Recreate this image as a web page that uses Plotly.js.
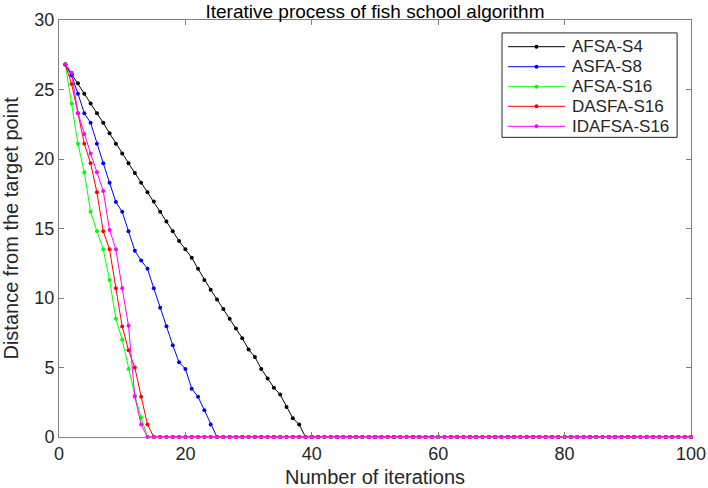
<!DOCTYPE html>
<html>
<head>
<meta charset="utf-8">
<script src="https://cdn.plot.ly/plotly-3.0.1.min.js"></script>
<style>
html,body{margin:0;padding:0;background:#fff;}
#chart{width:708px;height:488px;}
</style>
</head>
<body>
<div id="chart"></div>
<script>
// Iteration numbers (x axis)
const iterations = [1,2,3,4,5,6,7,8,9,10,11,12,13,14,15,16,17,18,19,20,
 21,22,23,24,25,26,27,28,29,30,31,32,33,34,35,36,37,38,39,40,
 41,42,43,44,45,46,47,48,49,50,51,52,53,54,55,56,57,58,59,60,
 61,62,63,64,65,66,67,68,69,70,71,72,73,74,75,76,77,78,79,80,
 81,82,83,84,85,86,87,88,89,90,91,92,93,94,95,96,97,98,99,100];

const seriesNames = ["AFSA-S4","ASFA-S8","AFSA-S16","DASFA-S16","IDAFSA-S16"];
const seriesColors = ["#000000","#0000ff","#00ff00","#ff0000","#ff00ff"];

const afsaS4 = [26.8,26.1,25.45,24.7,24.0,23.3,22.6,21.85,21.1,20.4,
 19.7,19.0,18.3,17.6,16.95,16.2,15.5,14.8,14.1,13.5,
 12.9,12.1,11.3,10.6,9.9,9.2,8.5,7.8,7.1,6.3,
 5.75,4.9,4.2,3.55,3.05,2.15,1.35,0.9,0,0,
 0,0,0,0,0,0,0,0,0,0, 0,0,0,0,0,0,0,0,0,0,
 0,0,0,0,0,0,0,0,0,0, 0,0,0,0,0,0,0,0,0,0,
 0,0,0,0,0,0,0,0,0,0, 0,0,0,0,0,0,0,0,0,0];

const asfaS8 = [26.8,26.0,24.7,23.3,22.6,21.1,19.7,18.3,16.9,16.2,
 14.8,13.4,12.7,12.1,10.7,9.3,7.96,6.6,5.37,4.9,
 3.48,2.89,1.93,0.9,0,0,0,0,0,0,
 0,0,0,0,0,0,0,0,0,0, 0,0,0,0,0,0,0,0,0,0,
 0,0,0,0,0,0,0,0,0,0, 0,0,0,0,0,0,0,0,0,0,
 0,0,0,0,0,0,0,0,0,0, 0,0,0,0,0,0,0,0,0,0,
 0,0,0,0,0,0,0,0,0,0];

const afsaS16 = [26.8,24.0,21.1,19.05,16.2,14.8,13.5,11.3,8.5,7.0,
 4.9,3.0,1.38,0,0,0,0,0,0,0,
 0,0,0,0,0,0,0,0,0,0, 0,0,0,0,0,0,0,0,0,0,
 0,0,0,0,0,0,0,0,0,0, 0,0,0,0,0,0,0,0,0,0,
 0,0,0,0,0,0,0,0,0,0, 0,0,0,0,0,0,0,0,0,0,
 0,0,0,0,0,0,0,0,0,0, 0,0,0,0,0,0,0,0,0,0];

const dasfaS16 = [26.8,25.4,23.3,21.1,19.7,17.6,14.8,13.5,10.7,7.95,
 6.24,5.0,2.9,0.9,0,0,0,0,0,0,
 0,0,0,0,0,0,0,0,0,0, 0,0,0,0,0,0,0,0,0,0,
 0,0,0,0,0,0,0,0,0,0, 0,0,0,0,0,0,0,0,0,0,
 0,0,0,0,0,0,0,0,0,0, 0,0,0,0,0,0,0,0,0,0,
 0,0,0,0,0,0,0,0,0,0, 0,0,0,0,0,0,0,0,0,0];

const idafsaS16 = [26.8,26.2,23.3,21.8,20.4,19.05,17.7,14.9,13.5,10.7,
 8.0,2.9,0.9,0,0,0,0,0,0,0,
 0,0,0,0,0,0,0,0,0,0, 0,0,0,0,0,0,0,0,0,0,
 0,0,0,0,0,0,0,0,0,0, 0,0,0,0,0,0,0,0,0,0,
 0,0,0,0,0,0,0,0,0,0, 0,0,0,0,0,0,0,0,0,0,
 0,0,0,0,0,0,0,0,0,0, 0,0,0,0,0,0,0,0,0,0];

const allSeries = [afsaS4, asfaS8, afsaS16, dasfaS16, idafsaS16];

const traces = allSeries.map((vals, i) => ({
  x: iterations,
  y: vals,
  name: seriesNames[i],
  type: 'scatter',
  mode: 'lines+markers',
  line: {color: seriesColors[i], width: 1},
  marker: {color: seriesColors[i], size: 4},
  cliponaxis: false,
  showlegend: false
}));

const FONT = 'Liberation Sans, Arial, Helvetica, sans-serif';
const axisGray = '#808080';
const textGray = '#262626';

// custom legend (MATLAB-style) in paper coordinates
const legBox = {x0: 0.701, x1: 0.978, y0: 0.7186, y1: 0.969};
const legRowY = [0.936, 0.888, 0.840, 0.793, 0.745];
const legLineX = [0.7104, 0.8006];
const legTextX = 0.8085;

const shapes = [{
  type: 'rect', xref: 'paper', yref: 'paper',
  x0: legBox.x0, x1: legBox.x1, y0: legBox.y0, y1: legBox.y1,
  line: {color: textGray, width: 1}, fillcolor: '#ffffff', layer: 'above'
}];
const annotations = [];
seriesNames.forEach((nm, i) => {
  shapes.push({
    type: 'line', xref: 'paper', yref: 'paper',
    x0: legLineX[0], x1: legLineX[1], y0: legRowY[i], y1: legRowY[i],
    line: {color: seriesColors[i], width: 1}, layer: 'above'
  });
  shapes.push({
    type: 'circle', xref: 'paper', yref: 'paper',
    xsizemode: 'pixel', ysizemode: 'pixel',
    xanchor: (legLineX[0] + legLineX[1]) / 2, yanchor: legRowY[i],
    x0: -2, x1: 2, y0: -2, y1: 2,
    fillcolor: seriesColors[i], line: {width: 0}, layer: 'above'
  });
  annotations.push({
    xref: 'paper', yref: 'paper', x: legTextX, y: legRowY[i],
    xanchor: 'left', yanchor: 'middle', showarrow: false,
    text: nm, font: {family: FONT, size: 17, color: textGray}
  });
});

// y-axis title placed as a rotated annotation for exact position
annotations.push({
  xref: 'paper', yref: 'paper', x: -0.0775, y: 0.5,
  xanchor: 'center', yanchor: 'middle', showarrow: false, textangle: -90,
  text: 'Distance from the target point',
  font: {family: FONT, size: 20, color: textGray}
});

const layout = {
  width: 708, height: 488,
  margin: {l: 59, r: 17, t: 20, b: 50.5},
  paper_bgcolor: '#ffffff', plot_bgcolor: '#ffffff',
  font: {family: FONT, size: 17, color: textGray},
  title: {
    text: 'Iterative process of fish school algorithm',
    font: {family: FONT, size: 19, color: '#000000'},
    x: 0.5, xref: 'paper', xanchor: 'center',
    y: 0.9775, yref: 'container', yanchor: 'middle',
    pad: {t: 0, b: 0}
  },
  xaxis: {
    range: [0, 100], dtick: 20, tick0: 0,
    showgrid: false, zeroline: false,
    showline: true, linecolor: axisGray, linewidth: 1, mirror: 'ticks',
    ticks: 'inside', ticklen: 5, tickcolor: axisGray,
    tickfont: {family: FONT, size: 18, color: textGray},
    title: {text: 'Number of iterations', standoff: 7,
            font: {family: FONT, size: 20, color: textGray}}
  },
  yaxis: {
    range: [0, 30], dtick: 5, tick0: 0,
    showgrid: false, zeroline: false,
    showline: true, linecolor: axisGray, linewidth: 1, mirror: 'ticks',
    ticks: 'inside', ticklen: 5, tickcolor: axisGray,
    tickfont: {family: FONT, size: 18, color: textGray}
  },
  shapes: shapes,
  annotations: annotations,
  showlegend: false
};

Plotly.newPlot('chart', traces, layout, {displayModeBar: false, staticPlot: true});
</script>
</body>
</html>
